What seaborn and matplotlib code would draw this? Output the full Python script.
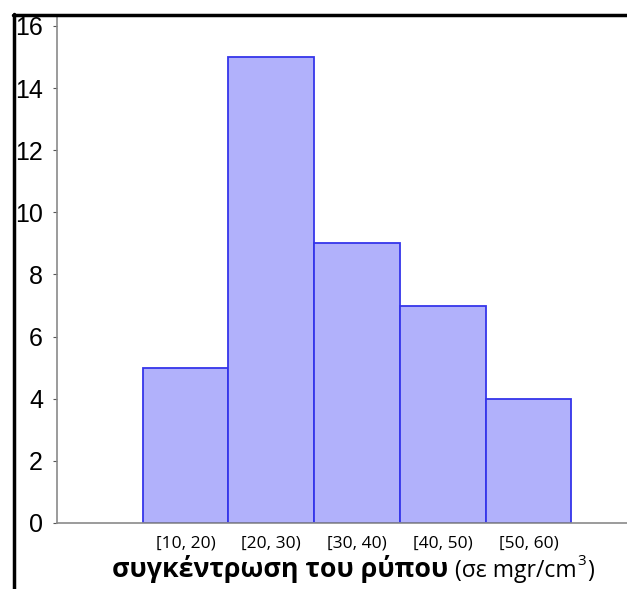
import numpy as np
import matplotlib
matplotlib.use("Agg")
import matplotlib.pyplot as plt
from matplotlib.lines import Line2D
import seaborn as sns

# concentration classes and counts
bin_edges = [10, 20, 30, 40, 50, 60]
counts = [5, 15, 9, 7, 4]
class_labels = ["[10, 20)", "[20, 30)", "[30, 40)", "[40, 50)", "[50, 60)"]
y_ticks = [0, 2, 4, 6, 8, 10, 12, 14, 16]

mids = [(a + b) / 2 for a, b in zip(bin_edges[:-1], bin_edges[1:])]

sns.set_style("white")
plt.rcParams["font.family"] = ["Liberation Sans", "DejaVu Sans"]

W, H = 627, 589
fig = plt.figure(figsize=(W / 100, H / 100), dpi=100)
ax = fig.add_axes([57 / W, (H - 523) / H, (W - 57) / W, (523 - 16) / H])

sns.histplot(x=mids, weights=counts, bins=bin_edges, ax=ax,
             color="#b1b1fb", edgecolor="#3535ea", linewidth=1.3, alpha=1)

ax.set_xlim(0, 66.5)
ax.set_ylim(0, 16.32)
ax.set_yticks(y_ticks)
ax.set_yticklabels([str(v) for v in y_ticks], fontsize=18)
ax.tick_params(axis="y", length=3, width=0.8, color="#555555", labelcolor="black",
               pad=7, left=True)
ax.set_xticks(mids)
ax.set_xticklabels(class_labels, fontsize=12.5, family=["Open Sans", "DejaVu Sans"])
ax.tick_params(axis="x", length=0, pad=9, labelcolor="black")
ax.set_xlabel("")
ax.set_ylabel("")

for s in ["top", "right"]:
    ax.spines[s].set_visible(False)
for s in ["left", "bottom"]:
    ax.spines[s].set_color("#8a8a8a")
    ax.spines[s].set_linewidth(1.2)

# outer black frame (left and top)
fig.add_artist(Line2D([14 / W, 14 / W], [0, 1 - 14 / H], transform=fig.transFigure,
                      color="black", linewidth=2.5))
fig.add_artist(Line2D([13 / W, 1], [1 - 15 / H, 1 - 15 / H], transform=fig.transFigure,
                      color="black", linewidth=2.5))

# axis title: bold part + normal part
fig.text(448 / W, 1 - 577 / H, "συγκέντρωση του ρύπου", ha="right", va="baseline",
         fontsize=19.3, fontweight="bold", color="black",
         family=["Open Sans", "DejaVu Sans"])
fig.text(455 / W, 1 - 577 / H, "(σε mgr/cm", ha="left", va="baseline",
         fontsize=16.5, color="black", family=["Open Sans", "DejaVu Sans"])
fig.text(455 / W, 1 - 577 / H, "(σε mgr/cm", ha="left", va="baseline",
         fontsize=16.5, color="none", family=["Open Sans", "DejaVu Sans"])

# superscript and closing parenthesis placed after the measured text
fig.canvas.draw()
base = fig.texts[-2].get_window_extent()
sup = fig.text(base.x1 / W + 1 / W, 1 - 565 / H, "3", ha="left", va="baseline",
               fontsize=11, color="black", family=["Open Sans", "DejaVu Sans"])
fig.canvas.draw()
sb = sup.get_window_extent()
fig.text(sb.x1 / W + 1 / W, 1 - 577 / H, ")", ha="left", va="baseline",
         fontsize=16.5, color="black", family=["Open Sans", "DejaVu Sans"])

fig.savefig("out.png", dpi=100)
